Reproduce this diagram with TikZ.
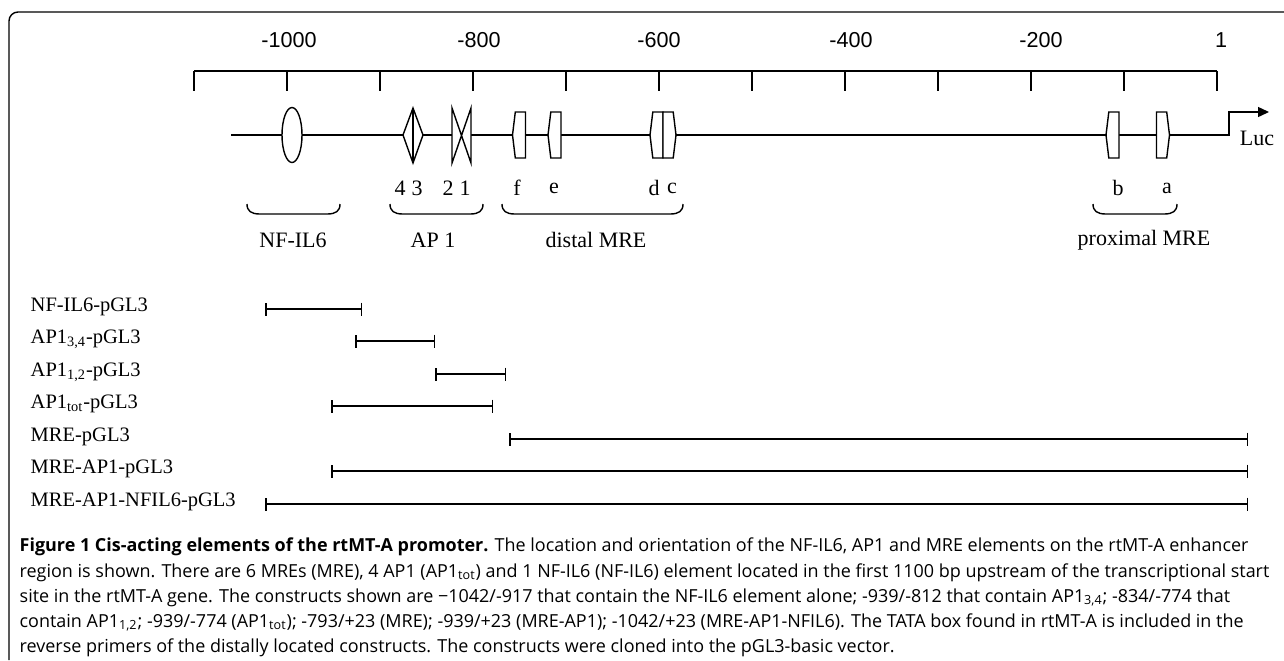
\documentclass[tikz,border=0pt]{standalone}
\usepackage{fontspec}
\setmainfont{Liberation Serif}
\setsansfont{Liberation Sans}
\newfontfamily\capfont{Open Sans}
\usetikzlibrary{arrows.meta}

\begin{document}
\begin{tikzpicture}[x=0.5pt, y=-0.5pt, line width=0.7pt,
        lbl/.style={inner sep=0pt, font=\fontsize{11}{12}\selectfont},
        scalelbl/.style={inner sep=0pt, font=\sffamily\fontsize{10.8}{12}\selectfont},
        construct/.style={inner sep=0pt, anchor=west, font=\fontsize{10.25}{12}\selectfont},
        capline/.style={inner sep=0pt, anchor=base west, font=\capfont\fontsize{8.98}{12.5}\selectfont},
        bar/.style={line width=0.75pt, {Bar[width=6.5pt]}-{Bar[width=6.5pt]}},
        element/.style={draw, fill=white},]
        \useasboundingbox (0,0) rectangle (1284,660);
        \draw[rounded corners=4.5pt] (9,660) -- (9,12) -- (1284,12);
        % scale
        \draw (194,71) -- (1217,71);
        \foreach \i in {0,...,11}
            \draw (194+93*\i,71) -- (194+93*\i,91);
        \foreach \x/\t in {289/-1000, 479/-800, 659/-600, 851/-400, 1041/-200, 1221/1}
            \node[scalelbl] (tick\t) at (\x,40) {\t};
        % promoter
        \coordinate (start) at (231,135);
        \coordinate (tss) at (1229,135);
        \coordinate (tssup) at (1229,112);
        \coordinate (lucend) at (1269,112);
        \draw[-{Triangle[length=5.5pt, width=5pt]}] (start) -- (tss) -- (tssup) -- (lucend);
        \node[lbl] (luc) at (1257,138) {Luc};
        \draw[element] (292,135) ellipse [x radius=5pt, y radius=13.75pt];
        \draw[element] (403,135) -- (413,108) -- (423,135) -- (413,163) -- cycle;
        \draw (413,108) -- (413,163);
        \draw[element] (452,108) -- (452,163) -- (471,108) -- (471,163) -- cycle;
        \foreach \c in {519, 554.5, 656.5, 1112.5}
            \draw[element] (\c-3.7,112) -- (\c-6.5,135) -- (\c-3.7,158) -- (\c+6.5,158) -- (\c+6.5,112) -- cycle;
        \foreach \c in {669.5, 1163}
            \draw[element] (\c-6.5,112) -- (\c+3.7,112) -- (\c+6.5,135) -- (\c+3.7,158) -- (\c-6.5,158) -- cycle;
        \foreach \x/\t in {400/4, 417/3, 448/2, 465/1, 517/f, 554/e, 654/d, 672/c, 1118/b, 1167/a}
            \node[lbl] (el\t) at (\x,188) {\t};
        % groups
        \foreach \a/\b in {247/340, 390/483, 502/683, 1093/1177}
            \draw (\a,204) .. controls (\a,211) and (\a+4,214) .. (\a+13,214) -- (\b-13,214)
                .. controls (\b-4,214) and (\b,211) .. (\b,204);
        \node[lbl] (nfil6) at (293,240) {NF-IL6};
        \node[lbl] (ap1) at (433,240) {AP 1};
        \node[lbl] (distal) at (596,240) {distal MRE};
        \node[lbl] (proximal) at (1144,240) {proximal MRE};
        % constructs
        \foreach \y/\t/\a/\b [count=\n] in {307/{NF-IL6-pGL3}/265/362,
                339/{AP1\textsubscript{3,4}-pGL3}/355/435,
                372/{AP1\textsubscript{1,2}-pGL3}/435/506,
                404/{AP1\textsubscript{tot}-pGL3}/331/493,
                437/{MRE-pGL3}/509/1248,
                469/{MRE-AP1-pGL3}/331/1248,
                502/{MRE-AP1-NFIL6-pGL3}/265/1248}{
            \node[construct] (con\n) at (30,\y) {\t};
            \coordinate (l\n) at (\a,\y+2);
            \coordinate (r\n) at (\b,\y+2);
            \draw[bar] (l\n) -- (r\n);
        }
        % caption
        \node[capline] (cap1) at (19,551.5) {\textbf{Figure 1 Cis-acting elements of the rtMT-A promoter.} The location and orientation of the NF-IL6, AP1 and MRE elements on the rtMT-A enhancer};
        \node[capline] (cap2) at (19,577) {region is shown. There are 6 MREs (MRE), 4 AP1 (AP1\textsubscript{tot}) and 1 NF-IL6 (NF-IL6) element located in the first 1100 bp upstream of the transcriptional start};
        \node[capline] (cap3) at (19,602) {site in the rtMT-A gene. The constructs shown are \textminus1042/-917 that contain the NF-IL6 element alone; -939/-812 that contain AP1\textsubscript{3,4}; -834/-774 that};
        \node[capline] (cap4) at (19,627) {contain AP1\textsubscript{1,2}; -939/-774 (AP1\textsubscript{tot}); -793/+23 (MRE); -939/+23 (MRE-AP1); -1042/+23 (MRE-AP1-NFIL6). The TATA box found in rtMT-A is included in the};
        \node[capline] (cap5) at (19,652) {reverse primers of the distally located constructs. The constructs were cloned into the pGL3-basic vector.};
\end{tikzpicture}
\end{document}
